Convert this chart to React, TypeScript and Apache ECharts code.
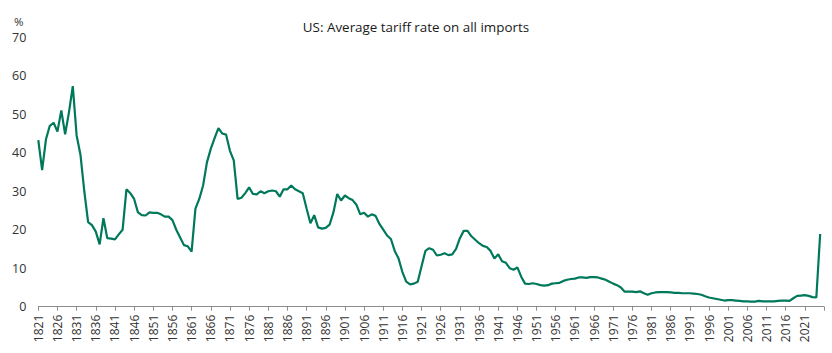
import React, { useEffect, useRef } from "react";
import * as echarts from "echarts";

const firstYear = 1821;
const lastAxisYear = 2026;

const tariff1821_1850 = [
  43.3, 35.5, 43.5, 47.0, 47.8, 45.5, 51.0, 44.8, 50.5, 57.3,
  44.5, 39.5, 30.0, 22.0, 21.2, 19.5, 16.2, 23.0, 17.8, 17.7,
  17.5, 18.8, 20.0, 30.5, 29.5, 28.0, 24.5, 23.8, 23.7, 24.5,
];
const tariff1851_1878 = [
  24.4, 24.4, 24.0, 23.4, 23.4, 22.5, 20.0, 18.0, 16.0, 15.7,
  14.3, 25.5, 28.0, 31.5, 37.5, 41.0, 43.8, 46.4, 45.0, 44.7,
  40.5, 38.0, 28.0, 28.3, 29.5, 31.0, 29.3, 29.2,
];
const tariff1879_1908 = [
  30.0, 29.5, 30.0, 30.2, 30.0, 28.6, 30.5, 30.5, 31.5, 30.5,
  30.0, 29.5, 25.5, 21.7, 23.8, 20.6, 20.3, 20.5, 21.3, 24.5,
  29.3, 27.6, 28.9, 28.2, 27.7, 26.5, 24.0, 24.4, 23.4, 24.0,
];
const tariff1909_1937 = [
  23.6, 21.5, 20.0, 18.5, 17.6, 14.5, 12.5, 9.0, 6.5, 5.8,
  6.0, 6.5, 10.5, 14.5, 15.2, 14.8, 13.3, 13.5, 13.9, 13.4,
  13.6, 15.0, 17.8, 19.7, 19.7, 18.3, 17.4, 16.5, 15.8,
];
const tariff1938_1966 = [
  15.5, 14.5, 12.5, 13.6, 11.8, 11.4, 10.0, 9.6, 10.2, 7.8,
  6.0, 5.9, 6.1, 5.9, 5.6, 5.5, 5.6, 6.0, 6.1, 6.2,
  6.7, 7.0, 7.2, 7.3, 7.6, 7.6, 7.5, 7.7, 7.7,
];
const tariff1967_1996 = [
  7.6, 7.3, 7.0, 6.5, 6.0, 5.6, 5.0, 3.9, 3.9, 3.9,
  3.8, 4.0, 3.5, 3.1, 3.5, 3.7, 3.8, 3.8, 3.8, 3.7,
  3.6, 3.6, 3.5, 3.5, 3.5, 3.4, 3.3, 3.1, 2.7, 2.4,
];
const tariff1997_2025 = [
  2.2, 2.0, 1.8, 1.6, 1.7, 1.7, 1.6, 1.5, 1.4, 1.4,
  1.3, 1.3, 1.5, 1.4, 1.4, 1.4, 1.4, 1.5, 1.6, 1.6,
  1.5, 2.2, 2.8, 2.9, 3.0, 2.8, 2.5, 2.4, 18.9,
];

const tariffValues: (number | null)[] = [
  ...tariff1821_1850,
  ...tariff1851_1878,
  ...tariff1879_1908,
  ...tariff1909_1937,
  ...tariff1938_1966,
  ...tariff1967_1996,
  ...tariff1997_2025,
];

const years: string[] = [];
for (let y = firstYear; y <= lastAxisYear; y++) years.push(String(y));
while (tariffValues.length < years.length) tariffValues.push(null);

const yTicks = [0, 10, 20, 30, 40, 50, 60, 70];
const titleText = "US: Average tariff rate on all imports";
const unitText = "%";

export default function App() {
  const ref = useRef<HTMLDivElement>(null);
  useEffect(() => {
    if (!ref.current) return;
    const chart = echarts.init(ref.current, null, { renderer: "svg" });
    const font = "'Open Sans', 'Noto Sans', sans-serif";
    chart.setOption({
      animation: false,
      backgroundColor: "#ffffff",
      title: {
        text: titleText,
        left: "center",
        top: 15,
        textStyle: { fontFamily: font, fontSize: 13.4, fontWeight: "normal", color: "#1a1a1a" },
      },
      graphic: [
        {
          type: "text",
          left: 14,
          top: 15,
          style: { text: unitText, fontFamily: font, fontSize: 11.5, fill: "#333" },
        },
      ],
      grid: { left: 38.3, right: 8, top: 37.3, bottom: 46.3, containLabel: false },
      xAxis: {
        type: "category",
        data: years,
        boundaryGap: false,
        axisLine: { show: true, lineStyle: { color: "#8c8c8c", width: 1 } },
        axisTick: { show: true, interval: 4, length: 4, lineStyle: { color: "#8c8c8c" } },
        axisLabel: {
          interval: 4,
          rotate: 90,
          margin: 8,
          fontFamily: font,
          fontSize: 12,
          color: "#333",
          formatter: (v: string) => (v === String(lastAxisYear) ? "" : v),
        },
        splitLine: { show: false },
      },
      yAxis: {
        type: "value",
        min: yTicks[0],
        max: yTicks[yTicks.length - 1],
        interval: 10,
        axisLine: { show: false },
        axisTick: { show: false },
        splitLine: { show: false },
        axisLabel: { fontFamily: font, fontSize: 12.5, color: "#333", margin: 12 },
      },
      series: [
        {
          type: "line",
          data: tariffValues,
          showSymbol: false,
          symbol: "none",
          connectNulls: false,
          lineStyle: { color: "#00785a", width: 2.2 },
          itemStyle: { color: "#00785a" },
        },
      ],
    });
    return () => chart.dispose();
  }, []);
  return (
    <div
      ref={ref}
      style={{ position: "absolute", left: 0, top: 0, width: 832, height: 353 }}
    />
  );
}
